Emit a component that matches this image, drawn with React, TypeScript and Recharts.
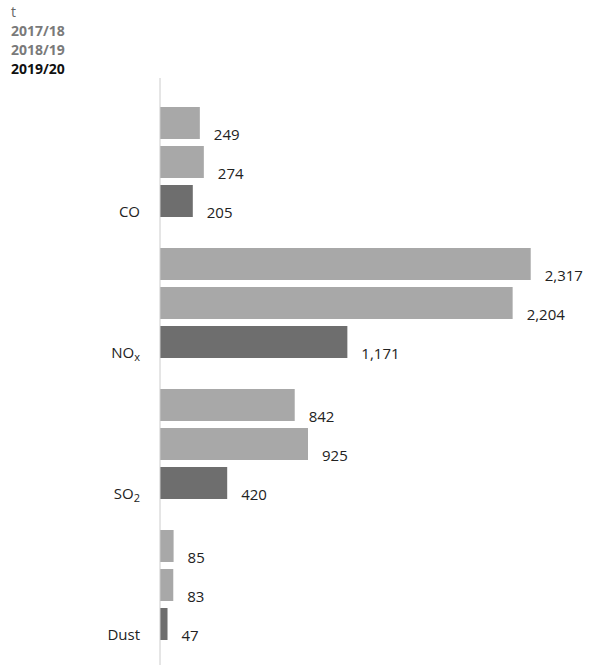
import React from 'react';
import { BarChart, Bar, XAxis, YAxis, LabelList } from 'recharts';

const categories = ['CO', 'NOx', 'SO2', 'Dust'];
const years = ['2017/18', '2018/19', '2019/20'];
const values1718 = [249, 2317, 842, 85];
const values1819 = [274, 2204, 925, 83];
const values1920 = [205, 1171, 420, 47];
const unit = 't';

const data = categories.map((name, i) => ({
  name,
  y1: values1718[i],
  y2: values1819[i],
  y3: values1920[i],
}));

const FONT = '"Open Sans", "Noto Sans", sans-serif';
const LIGHT = '#a8a8a8';
const DARK = '#6e6e6e';

const CategoryTick = (props: any) => {
  const { x, y, payload } = props;
  const v: string = payload.value;
  const base = v.replace(/[x2]$/, '');
  const sub = v.length > base.length ? v.slice(base.length) : '';
  return (
    <text x={x - 12} y={y + 55} textAnchor="end" fontFamily={FONT} fontSize={15} fill="#222">
      {base}
      {sub && (
        <tspan fontSize={11} dy={3}>
          {sub}
        </tspan>
      )}
    </text>
  );
};

const ValueLabel = (props: any) => {
  const { x, y, width, height, value } = props;
  return (
    <text x={x + width + 14} y={y + height + 1} fontFamily={FONT} fontSize={15} fill="#222">
      {Number(value).toLocaleString('en-US')}
    </text>
  );
};

const LegendBlock = () => (
  <div
    style={{
      position: 'absolute', left: 0, top: 0, zIndex: 1,
      fontFamily: FONT, fontSize: 14, lineHeight: '19px', paddingLeft: 11, paddingTop: 2,
    }}
  >
    <div style={{ color: '#666' }}>{unit}</div>
    <div style={{ color: '#7a7a7a', fontWeight: 700 }}>{years[0]}</div>
    <div style={{ color: '#7a7a7a', fontWeight: 700 }}>{years[1]}</div>
    <div style={{ color: '#111', fontWeight: 700 }}>{years[2]}</div>
  </div>
);

export default function App() {
  return (
    <div style={{ position: 'absolute', left: 0, top: 0, width: 591, height: 671 }}>
      <LegendBlock />
      <BarChart
        width={591}
        height={671}
        data={data}
        layout="vertical"
        margin={{ top: 78, right: 31, bottom: 6, left: 100 }}
        barSize={32}
        barGap={7}
      >
        <XAxis type="number" domain={[0, 2500]} hide />
        <YAxis
          type="category"
          dataKey="name"
          width={60}
          padding={{ top: 13, bottom: 10 }}
          axisLine={{ stroke: '#cccccc' }}
          tickLine={false}
          tick={<CategoryTick />}
        />
        <Bar dataKey="y1" name={years[0]} fill={LIGHT} isAnimationActive={false}>
          <LabelList dataKey="y1" content={<ValueLabel />} />
        </Bar>
        <Bar dataKey="y2" name={years[1]} fill={LIGHT} isAnimationActive={false}>
          <LabelList dataKey="y2" content={<ValueLabel />} />
        </Bar>
        <Bar dataKey="y3" name={years[2]} fill={DARK} isAnimationActive={false}>
          <LabelList dataKey="y3" content={<ValueLabel />} />
        </Bar>
      </BarChart>
    </div>
  );
}
